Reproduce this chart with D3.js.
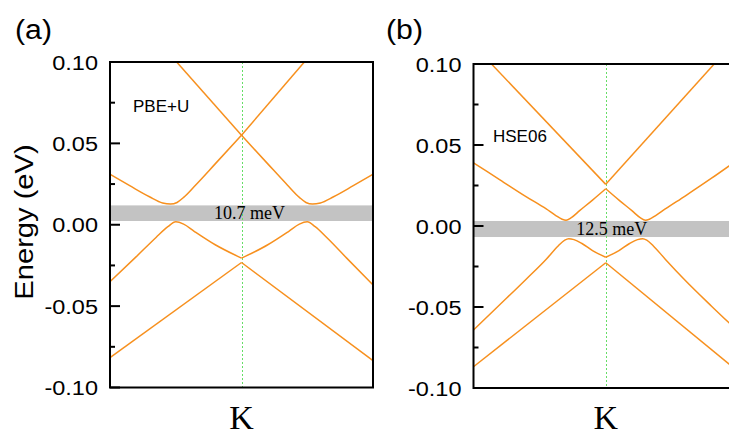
<!DOCTYPE html>
<html>
<head>
<meta charset="utf-8">
<script src="https://cdn.jsdelivr.net/npm/d3@7"></script>
<style>
  body { margin: 0; background: #fff; }
  svg { display: block; }
</style>
</head>
<body>
<div id="chart"></div>
<script>
// --- Data (k relative to K, energy in eV) ---
const yTicks = [0.10, 0.05, 0.00, -0.05, -0.10];
const yMinorTicks = [0.075, 0.025, -0.025, -0.075];

// (a) PBE+U
const aUpper = [[-0.493, 0.10], [0, 0.055], [0.478, 0.10]];
const aCond = [[-1, 0.031], [-0.85, 0.024], [-0.7, 0.0172], [-0.6, 0.0134], [-0.54, 0.0127], [-0.49, 0.0137],
  [-0.44, 0.0168], [-0.35, 0.0243], [-0.2, 0.0374], [0, 0.055],
  [0.2, 0.0374], [0.35, 0.0243], [0.44, 0.0168], [0.49, 0.0137], [0.54, 0.0127], [0.6, 0.0134],
  [0.7, 0.0172], [0.85, 0.024], [1, 0.031]];
const aVal1 = [[-1, -0.035], [-0.8, -0.0196], [-0.65, -0.0078], [-0.56, -0.0012], [-0.5, 0.0018], [-0.44, 0.0004],
  [-0.36, -0.004], [-0.2, -0.0123], [0, -0.0205],
  [0.2, -0.0123], [0.36, -0.004], [0.44, 0.0004], [0.5, 0.0018], [0.56, -0.0012], [0.65, -0.008],
  [0.8, -0.0205], [1, -0.037]];
const aVal2 = [[-1, -0.0816], [0, -0.0232], [1, -0.0835]];
const aGap = [0.0023, 0.0119];

// (b) HSE06
const bUpper = [[-0.864, 0.10], [0, 0.0257], [0.82, 0.10]];
const bCond = [[-1, 0.039], [-0.8, 0.0285], [-0.6, 0.018], [-0.45, 0.0105], [-0.38, 0.0066], [-0.33, 0.0042],
  [-0.3, 0.0036], [-0.26, 0.0052], [-0.2, 0.0093], [-0.1, 0.016], [0, 0.023],
  [0.1, 0.016], [0.2, 0.0093], [0.26, 0.0052], [0.3, 0.0036], [0.33, 0.0042], [0.38, 0.0066],
  [0.45, 0.0105], [0.6, 0.0185], [0.8, 0.0295], [1, 0.041]];
const bVal1 = [[-1, -0.0642], [-0.8, -0.0485], [-0.6, -0.0327], [-0.45, -0.0205], [-0.36, -0.0123], [-0.31, -0.0087],
  [-0.28, -0.0078], [-0.24, -0.0084], [-0.18, -0.0108], [-0.1, -0.0152], [0, -0.0193],
  [0.1, -0.0152], [0.18, -0.0108], [0.24, -0.0084], [0.28, -0.0078], [0.31, -0.0087], [0.36, -0.0123],
  [0.45, -0.0205], [0.6, -0.0335], [0.8, -0.0495], [1, -0.065]];
const bVal2 = [[-1, -0.0869], [0, -0.0227], [1, -0.0897]];
const bGap = [-0.0068, 0.0031];

const panels = [
  { id: "a", label: "(a)", method: "PBE+U", gapText: "10.7 meV", bands: [aUpper, aCond, aVal1, aVal2], gap: aGap,
    x0: 110, x1: 373, y0: 62, y1: 387.5, labelX: 15, methodX: 133, methodY: 112, gapX: 249.5, gapY: 219 },
  { id: "b", label: "(b)", method: "HSE06", gapText: "12.5 meV", bands: [bUpper, bCond, bVal1, bVal2], gap: bGap,
    x0: 473.5, x1: 738, y0: 64, y1: 388, labelX: 386, methodX: 493, methodY: 142, gapX: 611.7, gapY: 235 }
];

const W = 729, H = 435;
const orange = "#f7901e";
const sans = "'Liberation Sans', Arial, sans-serif";
const serif = "'Liberation Serif', 'Times New Roman', serif";
const stretch = 1.12; // the reference sans text is a bit wider than Arial

const svg = d3.select("#chart").append("svg")
  .attr("width", W)
  .attr("height", H);

// split a band at K so the cusp there stays sharp
function halves(band) {
  return [band.filter(d => d[0] <= 0), band.filter(d => d[0] >= 0)];
}

panels.forEach(p => {
  p.x = d3.scaleLinear().domain([-1, 1]).range([p.x0, p.x1]);
  p.y = d3.scaleLinear().domain([-0.1, 0.1]).range([p.y1, p.y0]);
});

function drawFrame(p) {
  svg.append("rect")
    .attr("x", p.x0).attr("y", p.y0)
    .attr("width", p.x1 - p.x0).attr("height", p.y1 - p.y0)
    .attr("fill", "none")
    .attr("stroke", "black")
    .attr("stroke-width", 2);
  yTicks.forEach(d => {
    svg.append("line")
      .attr("x1", p.x0).attr("x2", p.x0 + 10)
      .attr("y1", p.y(d)).attr("y2", p.y(d))
      .attr("stroke", "black")
      .attr("stroke-width", 2);
  });
  yMinorTicks.forEach(d => {
    svg.append("line")
      .attr("x1", p.x0).attr("x2", p.x0 + 5)
      .attr("y1", p.y(d)).attr("y2", p.y(d))
      .attr("stroke", "black")
      .attr("stroke-width", 2);
  });
}

// marks
panels.forEach(p => {
  const { x, y } = p;

  // gap band
  svg.append("rect")
    .attr("x", p.x0)
    .attr("width", p.x1 - p.x0)
    .attr("y", y(p.gap[1]))
    .attr("height", y(p.gap[0]) - y(p.gap[1]))
    .attr("fill", "#c3c3c3");

  // K line, dotted, as short segments
  const kx = Math.round(x(0)) + 0.5;
  d3.range(p.y0, p.y1, 4).forEach(sy => {
    svg.append("line")
      .attr("x1", kx).attr("x2", kx)
      .attr("y1", sy).attr("y2", Math.min(sy + 2, p.y1))
      .attr("stroke", "#66dd66")
      .attr("stroke-width", 1);
  });

  const line = d3.line()
    .x(d => x(d[0]))
    .y(d => y(d[1]))
    .curve(d3.curveMonotoneX);

  p.bands.flatMap(halves).forEach(seg => {
    svg.append("path")
      .attr("d", line(seg))
      .attr("fill", "none")
      .attr("stroke", orange)
      .attr("stroke-width", 1.5);
  });
});

// texts
panels.forEach(p => {
  const { x, y } = p;

  svg.append("text")
    .attr("x", p.gapX)
    .attr("y", p.gapY)
    .attr("text-anchor", "middle")
    .style("font-family", serif)
    .style("font-size", "18px")
    .text(p.gapText);

  svg.append("text")
    .attr("x", p.methodX)
    .attr("y", p.methodY)
    .style("font-family", sans)
    .style("font-size", "17px")
    .text(p.method);

  yTicks.forEach(d => {
    svg.append("text")
      .attr("text-anchor", "end")
      .attr("transform", `translate(${p.x0 - 12},${y(d) + 7.5}) scale(${stretch},1)`)
      .style("font-family", sans)
      .style("font-size", "21px")
      .text(d3.format(".2f")(d).replace("−", "-"));
  });

  svg.append("text")
    .attr("x", x(0))
    .attr("y", 429)
    .attr("text-anchor", "middle")
    .style("font-family", serif)
    .style("font-size", "34px")
    .text("K");

  svg.append("text")
    .attr("transform", `translate(${p.labelX},39) scale(${stretch},1)`)
    .style("font-family", sans)
    .style("font-size", "27px")
    .text(p.label);
});

svg.append("text")
  .attr("transform", `translate(33,222) rotate(-90) scale(${stretch},1)`)
  .attr("text-anchor", "middle")
  .style("font-family", sans)
  .style("font-size", "26px")
  .text("Energy (eV)");

// frames and inward ticks on top
panels.forEach(drawFrame);
</script>
</body>
</html>
